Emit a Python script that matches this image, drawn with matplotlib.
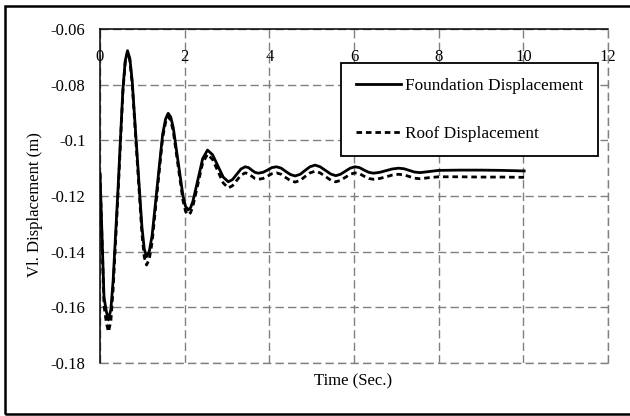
import matplotlib
matplotlib.use("Agg")
import matplotlib.pyplot as plt
from matplotlib.patches import Rectangle

# time history of the vertical displacement (values in m)
time_s = [0.00, 0.095, 0.15, 0.20, 0.256, 0.31, 0.43, 0.54, 0.595, 0.65,
          0.705, 0.76, 0.875, 0.99, 1.045, 1.10, 1.165, 1.23, 1.355, 1.48,
          1.55, 1.61, 1.67, 1.73, 1.845, 1.96, 2.02, 2.08, 2.14, 2.195,
          2.31, 2.425, 2.54, 2.66, 2.785, 2.91,
          3.03, 3.13, 3.23, 3.33, 3.43, 3.51, 3.585, 3.66, 3.74, 3.85,
          3.955, 4.06, 4.17, 4.28, 4.39, 4.50, 4.61, 4.73, 4.845, 4.96,
          5.08, 5.20, 5.325, 5.45, 5.57, 5.68, 5.795, 5.91, 6.02, 6.13,
          6.24, 6.35, 6.46, 6.61, 6.755, 6.90, 7.05, 7.18, 7.305, 7.43,
          7.56, 7.78, 8.00, 8.50, 9.00, 9.50, 10.02]

foundation_disp = [-0.1120, -0.1565, -0.1615, -0.1645, -0.1608, -0.1504, -0.1162, -0.0819, -0.0715, -0.0678,
                   -0.0706, -0.0786, -0.1048, -0.1310, -0.1390, -0.1418, -0.1398, -0.1343, -0.1160, -0.0978,
                   -0.0923, -0.0903, -0.0916, -0.0954, -0.1077, -0.1199, -0.1237, -0.1250, -0.1242, -0.1219,
                   -0.1143, -0.1066, -0.1035, -0.1052, -0.1092, -0.1132,
                   -0.1149, -0.1141, -0.1122, -0.1103, -0.1095, -0.1098, -0.1107, -0.1115, -0.1118, -0.1115,
                   -0.1107, -0.1098, -0.1095, -0.1100, -0.1112, -0.1123, -0.1128, -0.1122, -0.1108, -0.1095,
                   -0.1089, -0.1095, -0.1108, -0.1121, -0.1127, -0.1122, -0.1111, -0.1100, -0.1095, -0.1098,
                   -0.1107, -0.1115, -0.1118, -0.1115, -0.1109, -0.1103, -0.1100, -0.1102, -0.1108, -0.1114,
                   -0.1116, -0.1112, -0.1108, -0.1107, -0.1107, -0.1108, -0.1110]

roof_disp = [-0.1120, -0.1595, -0.1655, -0.1688, -0.1650, -0.1535, -0.1180, -0.0828, -0.0722, -0.0683,
             -0.0713, -0.0795, -0.1065, -0.1335, -0.1419, -0.1448, -0.1426, -0.1368, -0.1178, -0.0990,
             -0.0935, -0.0915, -0.0928, -0.0967, -0.1092, -0.1216, -0.1255, -0.1268, -0.1260, -0.1236,
             -0.1159, -0.1081, -0.1050, -0.1069, -0.1111, -0.1153,
             -0.1171, -0.1163, -0.1144, -0.1125, -0.1117, -0.1120, -0.1129, -0.1137, -0.1140, -0.1137,
             -0.1129, -0.1120, -0.1117, -0.1122, -0.1134, -0.1145, -0.1150, -0.1144, -0.1130, -0.1117,
             -0.1111, -0.1117, -0.1130, -0.1143, -0.1149, -0.1144, -0.1133, -0.1122, -0.1117, -0.1120,
             -0.1129, -0.1137, -0.1140, -0.1137, -0.1131, -0.1125, -0.1122, -0.1124, -0.1130, -0.1136,
             -0.1138, -0.1134, -0.1131, -0.1131, -0.1132, -0.1132, -0.1133]

x_ticks = [0, 2, 4, 6, 8, 10, 12]
y_ticks = [-0.18, -0.16, -0.14, -0.12, -0.10, -0.08, -0.06]
y_tick_labels = ["-0.18", "-0.16", "-0.14", "-0.12", "-0.1", "-0.08", "-0.06"]

plt.rcParams["font.family"] = ["Liberation Serif", "DejaVu Serif"]
plt.rcParams["font.size"] = 12

fig = plt.figure(figsize=(6.3, 4.16), dpi=100)
ax = fig.add_axes([100 / 630, 1 - 363 / 416, 508 / 630, 334 / 416])

grid_kw = dict(color="#808080", lw=1.0, ls=(0, (6, 3)))
ax.grid(True, **grid_kw)
ax.set_axisbelow(True)
# grid lines sitting on the far edges
ax.axhline(-0.18, clip_on=False, zorder=1, **grid_kw)
ax.axvline(12, clip_on=False, zorder=1, **grid_kw)

ax.plot(time_s, foundation_disp, color="black", lw=2.0, label="Foundation Displacement",
        solid_joinstyle="round", zorder=3)
ax.plot(time_s, roof_disp, color="black", lw=2.0, ls=(0, (2.0, 1.4)), label="Roof Displacement",
        dash_joinstyle="round", zorder=3)

ax.set_xlim(0, 12)
ax.set_ylim(-0.18, -0.06)
ax.set_xticks(x_ticks)
ax.set_xticklabels([str(v) for v in x_ticks])
ax.set_yticks(y_ticks)
ax.set_yticklabels(y_tick_labels)

ax.tick_params(axis="x", top=True, bottom=False, labeltop=True, labelbottom=False,
               length=0, pad=-26, labelsize=12)
ax.tick_params(axis="y", length=0, pad=10.5, labelsize=12)

for side in ("right", "bottom"):
    ax.spines[side].set_visible(False)
for side in ("left", "top"):
    ax.spines[side].set_linewidth(1.1)
    ax.spines[side].set_color("black")

leg = ax.legend(loc="upper right", bbox_to_anchor=(0.980, 0.898), frameon=True, fancybox=False,
                edgecolor="black", framealpha=1, handlelength=2.6, handletextpad=0.25,
                labelspacing=1.85, borderpad=0.85, borderaxespad=0, fontsize=12.4)
leg.get_frame().set_linewidth(1.3)

fig.text(353 / 630, 1 - 381 / 416, "Time (Sec.)", ha="center", va="center", fontsize=12)
fig.text(35 / 630, 1 - 205 / 416, "Vl. Displacement (m)", ha="center", va="center",
         rotation=90, fontsize=12)

# outer frame around the chart
fig.patches.append(Rectangle((5 / 630, 1 - 414 / 416), 1.02, 408 / 416, transform=fig.transFigure,
                             fill=False, edgecolor="black", lw=1.8))

fig.savefig("out.png", dpi=100)
